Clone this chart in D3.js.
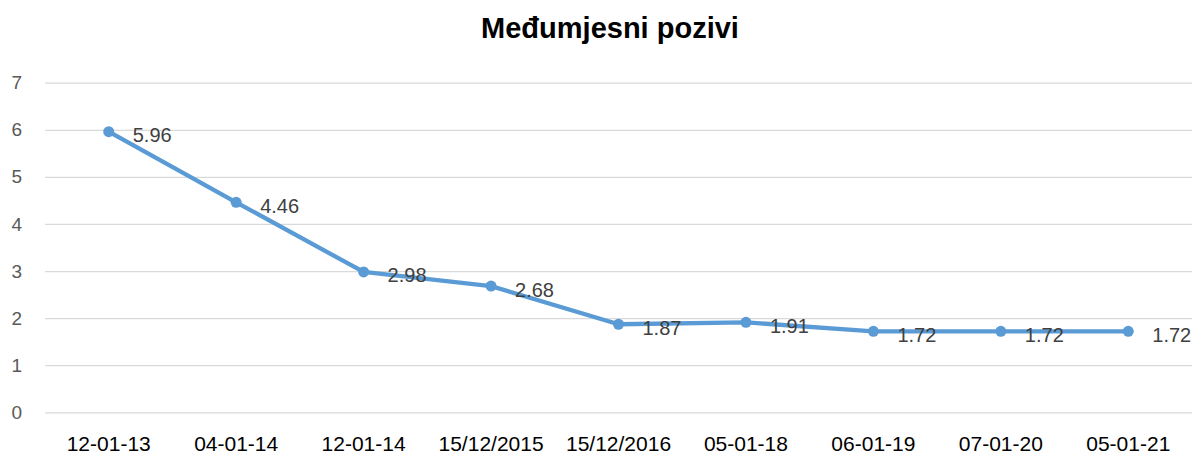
<!DOCTYPE html>
<html>
<head>
<meta charset="utf-8">
<script src="https://cdn.jsdelivr.net/npm/d3@7"></script>
<style>
  body { margin: 0; background: #fff; }
  text { font-family: "Liberation Sans", Arial, sans-serif; }
</style>
</head>
<body>
<div id="chart"></div>
<script>
var width = 1196;
var height = 455;

// data
var categories = ["12-01-13", "04-01-14", "12-01-14", "15/12/2015", "15/12/2016",
                  "05-01-18", "06-01-19", "07-01-20", "05-01-21"];
var values = [5.96, 4.46, 2.98, 2.68, 1.87, 1.91, 1.72, 1.72, 1.72];
var yTicks = [0, 1, 2, 3, 4, 5, 6, 7];

var plotLeft = 45, plotRight = 1192, plotTop = 82.7, plotBottom = 412.3;

var svg = d3.select("#chart")
   .append("svg")
   .attr("width", width)
   .attr("height", height);

var x = d3.scaleBand()
   .domain(categories)
   .range([plotLeft, plotRight]);

var y = d3.scaleLinear()
   .domain([0, 7])
   .range([plotBottom, plotTop]);

// title
svg.append("text")
   .attr("x", 610)
   .attr("y", 38)
   .attr("text-anchor", "middle")
   .attr("font-size", "29px")
   .attr("font-weight", "bold")
   .attr("fill", "#000")
   .text("Međumjesni pozivi");

// gridlines + y labels
var yAxis = svg.append("g")
   .attr("transform", "translate(" + plotLeft + ",0)")
   .call(d3.axisLeft(y)
      .tickValues(yTicks)
      .tickFormat(d3.format("d"))
      .tickSize(-(plotRight - plotLeft))
      .tickPadding(23));

yAxis.select(".domain").remove();
yAxis.selectAll("line")
   .attr("stroke", "#d9d9d9")
   .attr("stroke-width", 1.3);
yAxis.selectAll("text")
   .attr("font-size", "19px")
   .attr("fill", "#595959")
   .attr("font-family", "Liberation Sans, Arial, sans-serif");

// x labels
var xAxis = svg.append("g")
   .attr("transform", "translate(0," + plotBottom + ")")
   .call(d3.axisBottom(x).tickSize(0).tickPadding(24));

xAxis.select(".domain").remove();
xAxis.selectAll("text")
   .attr("font-size", "21px")
   .attr("fill", "#000")
   .attr("font-family", "Liberation Sans, Arial, sans-serif");

var cx = function(d, i) { return x(categories[i]) + x.bandwidth() / 2; };

// line
var line = d3.line()
   .x(function(d, i) { return cx(d, i); })
   .y(function(d) { return y(d); });

svg.append("path")
   .datum(values)
   .attr("d", line)
   .attr("fill", "none")
   .attr("stroke", "#5b9bd5")
   .attr("stroke-width", 4.3)
   .attr("stroke-linejoin", "round");

// markers
svg.selectAll("circle.pt")
   .data(values)
   .enter()
   .append("circle")
   .attr("class", "pt")
   .attr("cx", cx)
   .attr("cy", function(d) { return y(d); })
   .attr("r", 5.5)
   .attr("fill", "#5b9bd5");

// data labels
svg.selectAll("text.lbl")
   .data(values)
   .enter()
   .append("text")
   .attr("class", "lbl")
   .attr("x", function(d, i) { return cx(d, i) + 24; })
   .attr("y", function(d) { return y(d) + 10.5; })
   .attr("font-size", "20px")
   .attr("fill", "#404040")
   .text(function(d) { return d.toFixed(2); });
</script>
</body>
</html>
